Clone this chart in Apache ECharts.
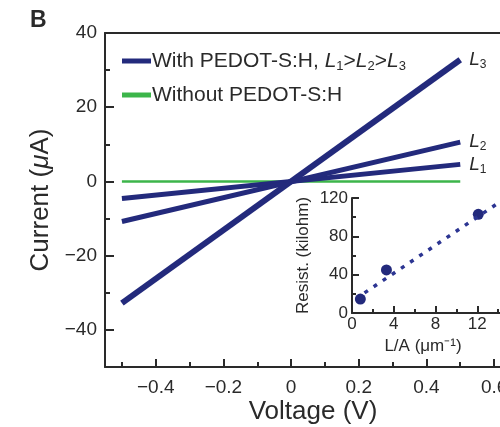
<!DOCTYPE html>
<html><head><meta charset="utf-8">
<script src="https://cdn.jsdelivr.net/npm/echarts@6/dist/echarts.min.js"></script>
<style>html,body{margin:0;padding:0;background:#fff}#c{width:500px;height:427px}</style>
</head><body><div id="c"></div>
<script>
// ---- data ----
const voltage = [-0.5, 0.5];
const currentL1 = [-4.6, 4.6];
const currentL2 = [-10.8, 10.6];
const currentL3 = [-32.8, 32.8];
const currentNoPedot = [0, 0];
const xTickLabels = [-0.4, -0.2, 0, 0.2, 0.4, 0.6];
const xMinorTicks = [-0.5, -0.3, -0.1, 0.1, 0.3, 0.5];
const yTickLabels = [-40, -20, 0, 20, 40];
const yMinorTicks = [-50, -30, -10, 10, 30];
const insetLA = [0.8, 3.3, 12.1];
const insetResist = [14.5, 45, 103];
const fitLA = [1.2, 15];
const fitResist = [21, 122];

const NAVY = '#232a7c';
const GREEN = '#3cb54a';
const TXT = '#2a2a2a';
const FONT = 'Liberation Sans, Arial, Helvetica, sans-serif';
const pairs = (xs, ys) => xs.map((x, i) => [x, ys[i]]);
const fmtNum = (v, d) => (v === 0 ? '0' : (d ? v.toFixed(d) : String(v)).replace('-', '\u2212'));

function richSub(big, small) {
  return {
    i: { fontStyle: 'italic', fontSize: big, color: TXT, fontFamily: FONT },
    s: { fontSize: small, color: TXT, verticalAlign: 'bottom', lineHeight: small, fontFamily: FONT }
  };
}

function lineSeries(name, ys, color, width, sub) {
  const s = {
    name: name, type: 'line', xAxisIndex: 0, yAxisIndex: 0,
    data: pairs(voltage, ys), symbol: 'none', silent: true,
    lineStyle: { color: color, width: width }, itemStyle: { color: color },
    z: 3
  };
  if (sub) {
    s.endLabel = { show: true, formatter: '{i|L}{s|' + sub + '}', distance: 9, rich: richSub(19, 12), lineHeight: 22 };
  }
  return s;
}
const line = { onZero: false, lineStyle: { color: TXT, width: 2 } };
const tickStyle = { width: 2, color: TXT };

const chart = echarts.init(document.getElementById('c'), null, { renderer: 'canvas' });
chart.setOption({
  animation: false,
  textStyle: { fontFamily: FONT },
  grid: [
    { left: 105, top: 33, width: 406, height: 334, outerBoundsMode: 'none', containLabel: false },
    { left: 352, top: 198, width: 167, height: 115, outerBoundsMode: 'none', containLabel: false }
  ],
  legend: {
    data: ['with', 'without'], orient: 'vertical', left: 117, top: 44,
    icon: 'rect', itemWidth: 29, itemHeight: 5, itemGap: 10,
    formatter: n => n === 'with'
      ? 'With PEDOT-S:H, {i|L}{s|1}>{i|L}{s|2}>{i|L}{s|3}'
      : 'Without PEDOT-S:H',
    textStyle: { fontSize: 21, color: TXT, fontFamily: FONT, lineHeight: 24, rich: richSub(21, 13), padding: [0, 0, 0, -4] }
  },
  xAxis: [
    { type: 'value', gridIndex: 0, min: -0.55, max: 0.65, position: 'bottom',
      axisLine: line,
      axisTick: { inside: true, length: 8, customValues: xTickLabels, lineStyle: tickStyle },
      axisLabel: { customValues: xTickLabels, fontSize: 19, color: TXT, margin: 11, formatter: v => fmtNum(v, 1) },
      splitLine: { show: false } },
    { type: 'value', gridIndex: 0, min: -0.55, max: 0.65, position: 'bottom',
      axisLine: { show: false, onZero: false },
      axisTick: { inside: true, length: 5, customValues: xMinorTicks, lineStyle: tickStyle },
      axisLabel: { show: false }, splitLine: { show: false } },
    { type: 'value', gridIndex: 0, min: -0.55, max: 0.65, position: 'top',
      axisLine: line,
      axisTick: { show: false }, axisLabel: { show: false }, splitLine: { show: false } },
    { type: 'value', gridIndex: 1, min: 0, max: 16, interval: 4,
      axisLine: line,
      axisTick: { inside: true, length: 7, lineStyle: tickStyle },
      minorTick: { show: true, splitNumber: 2, length: 4, lineStyle: tickStyle },
      axisLabel: { fontSize: 17, color: TXT, margin: 3 },
      splitLine: { show: false }, minorSplitLine: { show: false } }
  ],
  yAxis: [
    { type: 'value', gridIndex: 0, min: -50, max: 40, position: 'left',
      axisLine: line,
      axisTick: { inside: true, length: 9, customValues: yTickLabels, lineStyle: tickStyle },
      axisLabel: { customValues: yTickLabels, fontSize: 19, color: TXT, margin: 8, formatter: v => fmtNum(v) },
      splitLine: { show: false },
      name: 'Current ({i|\u03bc}A)', nameLocation: 'middle', nameGap: 51,
      nameTextStyle: { fontSize: 26, color: TXT, fontFamily: FONT,
        rich: { i: { fontStyle: 'italic', fontSize: 26, color: TXT, fontFamily: FONT } } } },
    { type: 'value', gridIndex: 0, min: -50, max: 40, position: 'left',
      axisLine: { show: false, onZero: false },
      axisTick: { inside: true, length: 5, customValues: yMinorTicks, lineStyle: tickStyle },
      axisLabel: { show: false }, splitLine: { show: false } },
    { type: 'value', gridIndex: 1, min: 0, max: 120, interval: 40, position: 'left',
      axisLine: line,
      axisTick: { inside: true, length: 7, lineStyle: tickStyle },
      minorTick: { show: true, splitNumber: 2, length: 4, lineStyle: tickStyle },
      axisLabel: { fontSize: 17, color: TXT, margin: 4 },
      splitLine: { show: false }, minorSplitLine: { show: false },
      name: 'Resist. (kilohm)', nameLocation: 'middle', nameGap: 40,
      nameTextStyle: { fontSize: 17, color: TXT, fontFamily: FONT } }
  ],
  series: [
    lineSeries('without', currentNoPedot, GREEN, 2.5, null),
    lineSeries('with', currentL1, NAVY, 5, '1'),
    lineSeries('with', currentL2, NAVY, 5, '2'),
    lineSeries('with', currentL3, NAVY, 6, '3'),
    { type: 'line', xAxisIndex: 3, yAxisIndex: 2, data: pairs(fitLA, fitResist),
      symbol: 'none', silent: true,
      lineStyle: { color: '#2c3592', width: 3.5, type: [4, 7] } },
    { type: 'scatter', xAxisIndex: 3, yAxisIndex: 2, data: pairs(insetLA, insetResist),
      symbolSize: 11, itemStyle: { color: NAVY, opacity: 1 }, silent: true }
  ],
  graphic: [
    { type: 'text', left: 30, top: 9, style: { text: 'B', font: 'bold 23px ' + FONT, fill: TXT } },
    { type: 'text', x: 313, y: 412, style: { text: 'Voltage (V)', font: '26px ' + FONT, fill: TXT, textAlign: 'center', textVerticalAlign: 'middle' } },
    { type: 'text', x: 423, y: 346, style: { text: 'L/A (\u03bcm\u207b\u00b9)', font: '17px ' + FONT, fill: TXT, textAlign: 'center', textVerticalAlign: 'middle' } }
  ]
});
</script>
</body></html>
